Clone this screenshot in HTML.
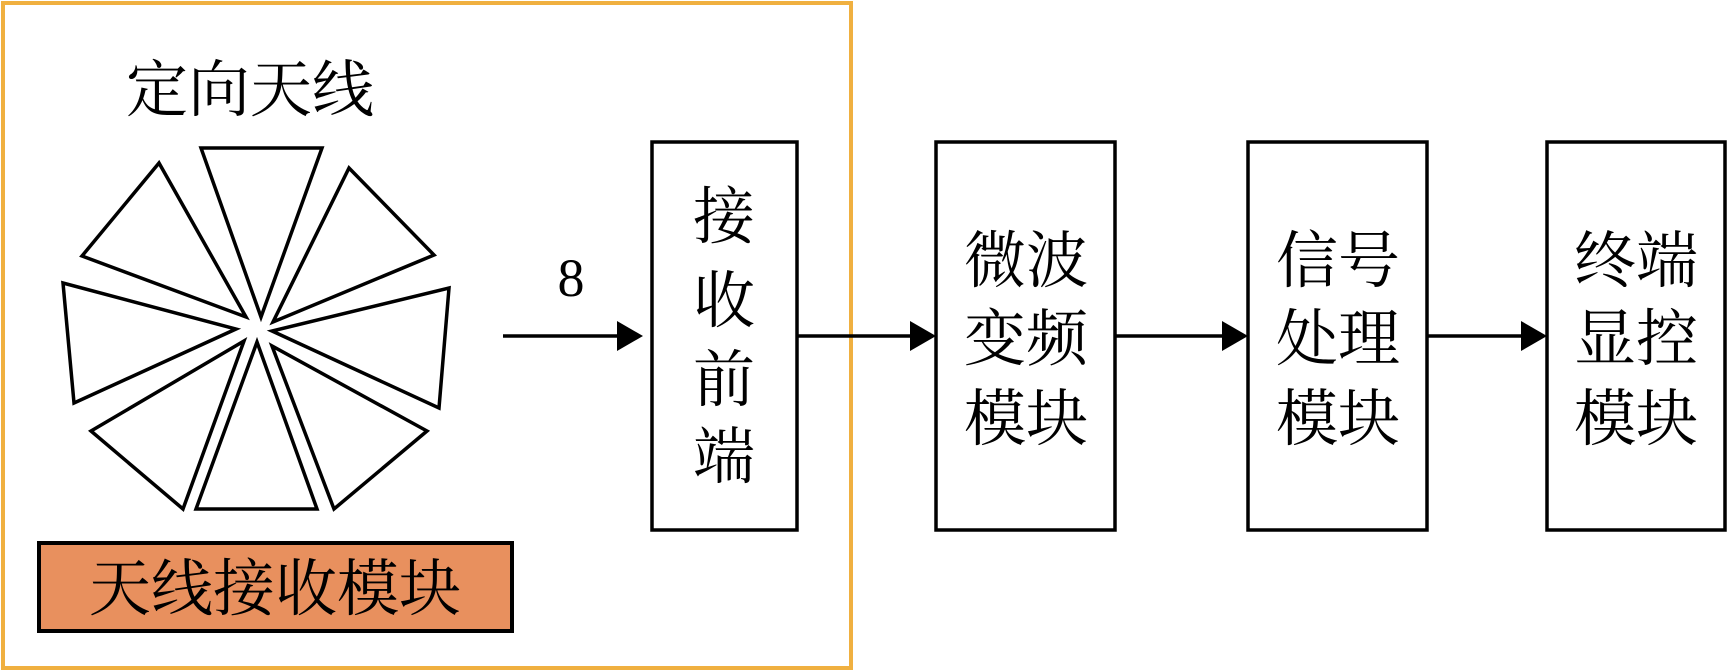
<!DOCTYPE html>
<html><head><meta charset="utf-8"><style>
html,body{margin:0;padding:0;background:#fff;}
svg{display:block;}
text{font-family:"Liberation Serif","Noto Serif CJK SC",serif;fill:#000;}
</style></head><body>
<svg width="1727" height="672" viewBox="0 0 1727 672" xmlns="http://www.w3.org/2000/svg">
<rect x="3" y="3" width="848" height="665" fill="none" stroke="#F0B040" stroke-width="4"/>
<text x="250" y="111" font-size="62" text-anchor="middle">定向天线</text>
<g fill="none" stroke="#000" stroke-width="3.5" stroke-linejoin="miter">
<polygon points="201,148 322,148 261,317"/>
<polygon points="159,163 82,256 246,317"/>
<polygon points="349,168 434,255 273,322"/>
<polygon points="63,283 74,403 236,329"/>
<polygon points="449,288 439,408 272,331"/>
<polygon points="91,431 183,509 244,341"/>
<polygon points="196,509 317,509 257,342"/>
<polygon points="272,346 334,509 427,431"/>
</g>
<rect x="39" y="543" width="473" height="88" fill="#E8905E" stroke="#000" stroke-width="4"/>
<text x="275" y="610" font-size="62" text-anchor="middle">天线接收模块</text>
<text x="571" y="296" font-size="54" text-anchor="middle">8</text>
<g stroke="#000" stroke-width="3.5">
<line x1="503" y1="336" x2="620" y2="336"/>
<line x1="797" y1="336" x2="914" y2="336"/>
<line x1="1115" y1="336" x2="1226" y2="336"/>
<line x1="1427" y1="336" x2="1525" y2="336"/>
</g>
<g fill="#000">
<polygon points="617,321 643,336 617,351"/>
<polygon points="910,321 936,336 910,351"/>
<polygon points="1222,321 1248,336 1222,351"/>
<polygon points="1521,321 1547,336 1521,351"/>
</g>
<g fill="none" stroke="#000" stroke-width="3.5">
<rect x="652" y="142" width="145" height="388"/>
<rect x="936" y="142" width="179" height="388"/>
<rect x="1248" y="142" width="179" height="388"/>
<rect x="1547" y="142" width="178" height="388"/>
</g>
<g font-size="62" text-anchor="middle">
<text x="724" y="238">接</text>
<text x="724" y="322">收</text>
<text x="724" y="401">前</text>
<text x="724" y="478">端</text>
<text x="1026" y="282">微波</text>
<text x="1026" y="360">变频</text>
<text x="1026" y="440">模块</text>
<text x="1338" y="282">信号</text>
<text x="1338" y="360">处理</text>
<text x="1338" y="440">模块</text>
<text x="1636" y="282">终端</text>
<text x="1636" y="360">显控</text>
<text x="1636" y="440">模块</text>
</g>
</svg>
</body></html>
